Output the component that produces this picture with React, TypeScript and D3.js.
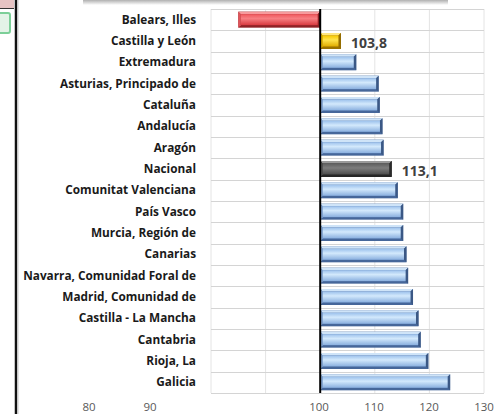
import React, { useEffect, useRef } from "react";
import * as d3 from "d3";

const categories = [
  "Balears, Illes",
  "Castilla y León",
  "Extremadura",
  "Asturias, Principado de",
  "Cataluña",
  "Andalucía",
  "Aragón",
  "Nacional",
  "Comunitat Valenciana",
  "País Vasco",
  "Murcia, Región de",
  "Canarias",
  "Navarra, Comunidad Foral de",
  "Madrid, Comunidad de",
  "Castilla - La Mancha",
  "Cantabria",
  "Rioja, La",
  "Galicia",
];
const values = [
  85.0, 103.8, 106.6, 110.7, 110.9, 111.4, 111.6, 113.1, 114.2, 115.2, 115.2,
  115.8, 116.1, 117.0, 118.0, 118.4, 119.8, 123.8,
];
const labelled = ["Castilla y León", "Nacional"];
const xTicks = [80, 90, 100, 110, 120, 130];

const palettes: Record<string, { top: string; face: string[]; bottom: string; right: string; left: string }> = {
  blue: { top: "#cfe4f8", face: ["#9cc1ec", "#d3e9fc", "#89afdf"], bottom: "#46679a", right: "#3b5885", left: "#86a8d6" },
  red: { top: "#f79a9c", face: ["#f0575c", "#f77f82", "#d8393f"], bottom: "#8f2226", right: "#8a1f23", left: "#e0555a" },
  gold: { top: "#ffe680", face: ["#f7c800", "#ffe34d", "#e0ad00"], bottom: "#9c7300", right: "#946c00", left: "#e6b800" },
  gray: { top: "#9a9a9a", face: ["#5e5e5e", "#7d7d7d", "#4d4d4d"], bottom: "#262626", right: "#2b2b2b", left: "#555555" },
};

const paletteFor = (name: string, v: number) => {
  if (v < 100) return "red";
  if (name === "Castilla y León") return "gold";
  if (name === "Nacional") return "gray";
  return "blue";
};

const App: React.FC = () => {
  const svgRef = useRef<SVGSVGElement | null>(null);
  const width = 494;
  const height = 414;

  useEffect(() => {
    if (!svgRef.current) return;
    const svg = d3.select(svgRef.current);
    svg.selectAll("*").remove();

    const x = d3.scaleLinear().domain([80, 130]).range([211, 484]);
    // the tick labels of the source sit off the gridlines for 80 and 90
    const xLabel = d3.scaleLinear().domain([80, 90, 100, 130]).range([89, 150, 319, 484]);
    const y = d3
      .scaleBand<string>()
      .domain(categories)
      .range([9, 393])
      .paddingInner(0.25)
      .paddingOuter(0.125);

    const defs = svg.append("defs");
    Object.entries(palettes).forEach(([k, p]) => {
      const g = defs
        .append("linearGradient")
        .attr("id", `face-${k}`)
        .attr("x1", 0)
        .attr("y1", 0)
        .attr("x2", 0)
        .attr("y2", 1);
      g.append("stop").attr("offset", "0%").attr("stop-color", p.face[0]);
      g.append("stop").attr("offset", "40%").attr("stop-color", p.face[1]);
      g.append("stop").attr("offset", "100%").attr("stop-color", p.face[2]);
    });
    const sh = defs
      .append("linearGradient")
      .attr("id", "topShadow")
      .attr("x1", 0)
      .attr("y1", 0)
      .attr("x2", 0)
      .attr("y2", 1);
    sh.append("stop").attr("offset", "0%").attr("stop-color", "#b0b0b0");
    sh.append("stop").attr("offset", "100%").attr("stop-color", "#ffffff");

    svg.append("rect").attr("width", width).attr("height", height).attr("fill", "#ffffff");

    // bits of the neighbouring sheet on the left and above
    svg.append("rect").attr("x", 83).attr("y", 0).attr("width", 365).attr("height", 5).attr("fill", "url(#topShadow)");
    svg.append("rect").attr("x", 0).attr("y", 0).attr("width", 14).attr("height", 8).attr("fill", "#e6c3c3");
    svg.append("line").attr("x1", 0).attr("x2", 14).attr("y1", 8.5).attr("y2", 8.5).attr("stroke", "#333").attr("stroke-width", 1);
    svg
      .append("rect")
      .attr("x", -3)
      .attr("y", 13)
      .attr("width", 13)
      .attr("height", 20)
      .attr("rx", 2)
      .attr("fill", "#e3f3e7")
      .attr("stroke", "#7ccf98")
      .attr("stroke-width", 2);
    svg.append("line").attr("x1", 16).attr("x2", 16).attr("y1", 0).attr("y2", height).attr("stroke", "#111").attr("stroke-width", 2.5);
    svg.append("line").attr("x1", 18).attr("x2", 18).attr("y1", 0).attr("y2", height).attr("stroke", "#c8c8c8").attr("stroke-width", 1);

    // vertical gridlines
    svg
      .append("g")
      .selectAll("line")
      .data(xTicks.filter((t) => t !== 100))
      .join("line")
      .attr("x1", (d) => x(d))
      .attr("x2", (d) => x(d))
      .attr("y1", 9)
      .attr("y2", 393)
      .attr("stroke", "#e4e4e4")
      .attr("stroke-width", 1);

    // horizontal gridlines between categories
    const bounds = categories.map((c) => (y(c) as number) - (y.step() - y.bandwidth()) / 2);
    bounds.push(393);
    svg
      .append("g")
      .selectAll("line")
      .data(bounds)
      .join("line")
      .attr("x1", x(80))
      .attr("x2", x(130))
      .attr("y1", (d) => Math.round(d) + 0.5)
      .attr("y2", (d) => Math.round(d) + 0.5)
      .attr("stroke", "#d4d4d4")
      .attr("stroke-width", 1);

    // bars
    const b = 2.5;
    const bars = svg.append("g");
    categories.forEach((c, i) => {
      const v = values[i];
      const key = paletteFor(c, v);
      const p = palettes[key];
      const x0 = x(Math.min(v, 100));
      const x1 = x(Math.max(v, 100));
      const y0 = y(c) as number;
      const h = y.bandwidth();
      const g = bars.append("g");
      g.append("rect").attr("x", x0).attr("y", y0).attr("width", x1 - x0).attr("height", h).attr("fill", p.bottom);
      g.append("polygon")
        .attr("points", `${x0},${y0} ${x1},${y0} ${x1 - b},${y0 + b} ${x0 + b},${y0 + b}`)
        .attr("fill", p.top);
      g.append("polygon")
        .attr("points", `${x0},${y0} ${x0 + b},${y0 + b} ${x0 + b},${y0 + h - b} ${x0},${y0 + h}`)
        .attr("fill", p.left);
      g.append("polygon")
        .attr("points", `${x1},${y0} ${x1},${y0 + h} ${x1 - b},${y0 + h - b} ${x1 - b},${y0 + b}`)
        .attr("fill", p.right);
      g.append("rect")
        .attr("x", x0 + b)
        .attr("y", y0 + b)
        .attr("width", x1 - x0 - 2 * b)
        .attr("height", h - 2 * b)
        .attr("fill", `url(#face-${key})`);
    });

    // axis at 100
    svg
      .append("line")
      .attr("x1", x(100))
      .attr("x2", x(100))
      .attr("y1", 9)
      .attr("y2", 393)
      .attr("stroke", "#000")
      .attr("stroke-width", 2);

    // category labels
    svg
      .append("g")
      .selectAll("text")
      .data(categories)
      .join("text")
      .attr("x", 196)
      .attr("y", (d) => (y(d) as number) + y.bandwidth() / 2)
      .attr("dy", "0.35em")
      .attr("text-anchor", "end")
      .attr("font-family", "'Open Sans', sans-serif")
      .attr("font-weight", "bold")
      .attr("font-size", 11.8)
      .attr("fill", "#1a1a1a")
      .text((d) => d);

    // data labels
    svg
      .append("g")
      .selectAll("text")
      .data(categories.filter((c) => labelled.includes(c)))
      .join("text")
      .attr("x", (d) => x(values[categories.indexOf(d)]) + 10)
      .attr("y", (d) => (y(d) as number) + y.bandwidth() / 2 + 2)
      .attr("dy", "0.35em")
      .attr("font-family", "'Open Sans', sans-serif")
      .attr("font-weight", "bold")
      .attr("font-size", 14)
      .attr("fill", "#404040")
      .text((d) => d3.format(".1f")(values[categories.indexOf(d)]).replace(".", ","));

    // tick labels
    svg
      .append("g")
      .selectAll("text")
      .data(xTicks)
      .join("text")
      .attr("x", (d) => xLabel(d))
      .attr("y", 407)
      .attr("dy", "0.35em")
      .attr("text-anchor", "middle")
      .attr("font-family", "'Open Sans', sans-serif")
      .attr("font-size", 11.5)
      .attr("fill", "#595959")
      .text((d) => d);
  }, []);

  return (
    <svg
      ref={svgRef}
      width={width}
      height={height}
      style={{ position: "absolute", left: 0, top: 0 }}
    ></svg>
  );
};

export default App;
